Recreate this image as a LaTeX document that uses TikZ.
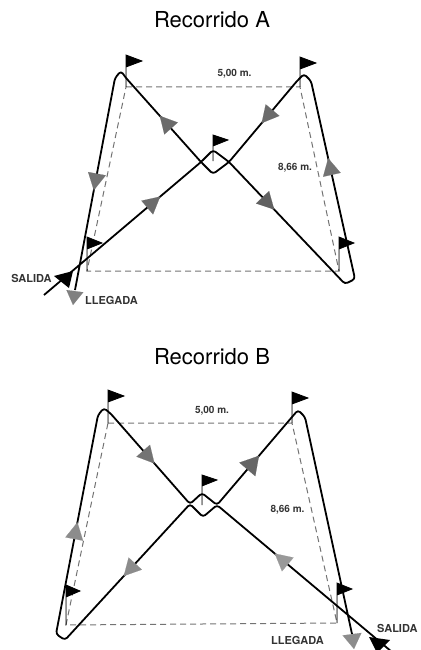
\documentclass[tikz,border=0pt]{standalone}
\usepackage{fontspec}
\setmainfont{TeX Gyre Heros}
\usetikzlibrary{arrows.meta,calc}

\begin{document}
\begin{tikzpicture}[x=1pt,y=-1pt,
  route/.style={line width=1.8, rounded corners=3pt, line join=round},
  trap/.style={black!55, line width=1, dash pattern=on 6pt off 4pt},
  flagpole/.style={line width=0.8, fill=black},
  way/.style={line width=0.1, draw=#1, -{Triangle[length=17pt,width=18pt]}},
  lab/.style={inner sep=0, font=\bfseries\fontsize{11}{13}\selectfont, text=black!80},
  dim/.style={inner sep=0, font=\bfseries\fontsize{10}{12}\selectfont, text=black!80},
  heading/.style={inner sep=0, font=\fontsize{22}{26}\selectfont}]
\useasboundingbox (0,0) rectangle (420,650);

\node[heading, anchor=base] (titA) at (212,28) {Recorrido A};
\coordinate (tlA) at (126,87);
\coordinate (trA) at (300,87);
\coordinate (brA) at (339,271);
\coordinate (blA) at (87,271);
\coordinate (cA) at (213,161);
\coordinate (sA) at (44,295);
\coordinate (lA) at (201,162);
\coordinate (tA) at (213,150);
\coordinate (rA) at (229,162);
\coordinate (bA) at (213,174);
\coordinate (p1A) at (345,284);
\coordinate (p2A) at (355,279);
\coordinate (q1A) at (311,81);
\coordinate (q2A) at (304,74);
\coordinate (q3A) at (297,81);
\coordinate (u1A) at (126,78);
\coordinate (u2A) at (121,71);
\coordinate (u3A) at (115,78);
\coordinate (eA) at (75,290);
\coordinate (gA) at (73,305);
\draw[trap] (tlA) -- (trA) -- (brA) -- (blA) -- cycle;
\filldraw[flagpole] (tlA) -- ++(0,-32) -- ++(16,6) -- ++(-16,6) -- cycle;
\filldraw[flagpole] (trA) -- ++(0,-30) -- ++(16,6) -- ++(-16,6) -- cycle;
\filldraw[flagpole] (cA) -- ++(0,-26) -- ++(15,5) -- ++(-15,6) -- cycle;
\filldraw[flagpole] (blA) -- ++(0,-34) -- ++(15,6) -- ++(-15,6) -- cycle;
\filldraw[flagpole] (brA) -- ++(0,-34) -- ++(15,6) -- ++(-15,6) -- cycle;
\draw[route] (sA) -- (lA) -- (tA) -- (rA) -- (p1A) -- (p2A) -- (q1A) -- (q2A) -- (q3A) -- (rA) -- (bA) -- (lA) -- (u1A) -- (u2A) -- (u3A) -- (eA);
\draw[way=black!58] ($(sA)!0.70!(lA)$) -- ($(sA)!0.74!(lA)$);
\draw[way=black!58] ($(lA)!0.49!(u1A)$) -- ($(lA)!0.55!(u1A)$);
\draw[way=black!58] ($(q3A)!0.47!(rA)$) -- ($(q3A)!0.52!(rA)$);
\draw[way=black!62] ($(rA)!0.35!(p1A)$) -- ($(rA)!0.39!(p1A)$);
\draw[way=black!55] ($(p2A)!0.575!(q1A)$) -- ($(p2A)!0.61!(q1A)$);
\draw[way=black!55] ($(u3A)!0.49!(eA)$) -- ($(u3A)!0.53!(eA)$);
\draw[way=black!50, -{Triangle[length=14pt,width=17pt]}] (eA) -- (gA);
\fill (54,276) -- (73,271) -- (69,288) -- cycle;
\node[lab, anchor=base] (salA) at (31.5,282) {SALIDA};
\node[lab, anchor=base] (llegA) at (111.5,304) {LLEGADA};
\node[dim, anchor=base] (anchoA) at (234.5,77) {5,00 m.};
\node[dim, anchor=base] (largoA) at (295,170.5) {8,66 m.};

\node[heading, anchor=base] (titB) at (212,364) {Recorrido B};
\coordinate (tlB) at (108,423);
\coordinate (trB) at (292,423);
\coordinate (brB) at (337,623);
\coordinate (blB) at (66,625);
\coordinate (cB) at (202,505);
\coordinate (sB) at (392,652);
\coordinate (rB) at (217,505);
\coordinate (bB) at (203,517);
\coordinate (lB) at (190,504);
\coordinate (tB) at (202,493);
\coordinate (p1B) at (65,640);
\coordinate (p2B) at (56,634);
\coordinate (u1B) at (98,415);
\coordinate (u2B) at (104,408);
\coordinate (u3B) at (111,414);
\coordinate (q1B) at (292,417);
\coordinate (q2B) at (298,410);
\coordinate (q3B) at (305,417);
\coordinate (eB) at (352,634);
\coordinate (gB) at (354,649);
\draw[trap] (tlB) -- (trB) -- (brB) -- (blB) -- cycle;
\filldraw[flagpole] (tlB) -- ++(0,-33) -- ++(16,6) -- ++(-16,6) -- cycle;
\filldraw[flagpole] (trB) -- ++(0,-31) -- ++(16,6) -- ++(-16,6) -- cycle;
\filldraw[flagpole] (cB) -- ++(0,-30) -- ++(15,5) -- ++(-15,6) -- cycle;
\filldraw[flagpole] (blB) -- ++(0,-40) -- ++(14,6) -- ++(-14,6) -- cycle;
\filldraw[flagpole] (brB) -- ++(0,-40) -- ++(15,6) -- ++(-15,6) -- cycle;
\draw[route] (sB) -- (rB) -- (bB) -- (lB) -- (p1B) -- (p2B) -- (u1B) -- (u2B) -- (u3B) -- (lB) -- (tB) -- (rB) -- (q1B) -- (q2B) -- (q3B) -- (eB);
\draw[way=black!40] ($(sB)!0.635!(rB)$) -- ($(sB)!0.67!(rB)$);
\draw[way=black!45] ($(lB)!0.49!(p1B)$) -- ($(lB)!0.53!(p1B)$);
\draw[way=black!45] ($(p2B)!0.475!(u1B)$) -- ($(p2B)!0.51!(u1B)$);
\draw[way=black!55] ($(u3B)!0.50!(lB)$) -- ($(u3B)!0.55!(lB)$);
\draw[way=black!60, -{Triangle[length=18pt,width=21pt]}] ($(rB)!0.50!(q1B)$) -- ($(rB)!0.56!(q1B)$);
\draw[way=black!45, -{Triangle[length=15pt,width=19pt]}] (eB) -- (gB);
\fill (369,637) -- (390,640) -- (377,653) -- cycle;
\node[lab, anchor=base] (llegB) at (297.5,644) {LLEGADA};
\node[lab, anchor=base west] (salB) at (377,632) {SALIDA};
\node[dim, anchor=base] (anchoB) at (212,413.5) {5,00 m.};
\node[dim, anchor=base] (largoB) at (287.5,512.5) {8,66 m.};
\end{tikzpicture}
\end{document}
